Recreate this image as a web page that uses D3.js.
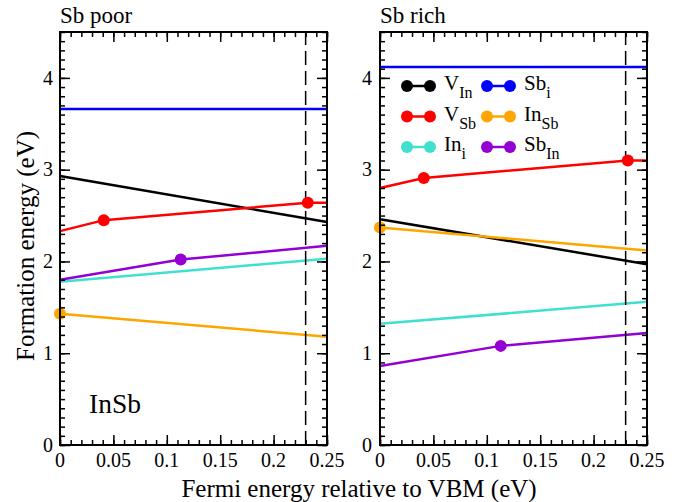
<!DOCTYPE html>
<html>
<head>
<meta charset="utf-8">
<script src="https://cdn.jsdelivr.net/npm/d3@7"></script>
<style>
  body { margin: 0; background: #fff; }
</style>
</head>
<body>
<div id="chart"></div>
<script>
// tick values
const xTicks = [0, 0.05, 0.1, 0.15, 0.2, 0.25]
const xTickLabels = ['0', '0.05', '0.1', '0.15', '0.2', '0.25']
const yTicks = [0, 1, 2, 3, 4]

// defects: name, subscript, colour
const defectNames = ['V', 'V', 'In', 'Sb', 'In', 'Sb']
const defectSubs = ['In', 'Sb', 'i', 'i', 'Sb', 'In']
const defectColors = ['#000000', '#ff0000', '#40e0d0', '#0000ff', '#ffa500', '#9400d3']

// Sb poor, [Fermi energy, formation energy]
const poorVIn = [[0, 2.93], [0.25, 2.43]]
const poorVSb = [[0, 2.33], [0.041, 2.45], [0.232, 2.64], [0.25, 2.64]]
const poorIni = [[0, 1.78], [0.25, 2.03]]
const poorSbi = [[0, 3.66], [0.25, 3.66]]
const poorInSb = [[0, 1.43], [0.25, 1.18]]
const poorSbIn = [[0, 1.80], [0.113, 2.02], [0.25, 2.17]]

// Sb rich
const richVIn = [[0, 2.46], [0.25, 1.97]]
const richVSb = [[0, 2.80], [0.041, 2.91], [0.232, 3.10], [0.25, 3.10]]
const richIni = [[0, 1.32], [0.25, 1.56]]
const richSbi = [[0, 4.12], [0.25, 4.12]]
const richInSb = [[0, 2.37], [0.25, 2.12]]
const richSbIn = [[0, 0.86], [0.113, 1.08], [0.25, 1.22]]

// transition levels (dots) as x positions per defect
const dotXs = [[], [0.041, 0.232], [], [], [0], [0.113]]

const bandGap = 0.23

const width = 690
const height = 502
const panelTop = 32
const panelBottom = 445
const panelW = 267
const serif = "'Liberation Serif', 'Times New Roman', 'DejaVu Serif', serif"

const svg = d3.select('#chart')
  .append('svg')
    .attr('width', width)
    .attr('height', height)
    .attr('font-family', serif)

const yScale = d3.scaleLinear()
  .domain([0, 4.5])
  .range([panelBottom, panelTop])

function drawPanel(left, title, series, tickAnchorX) {
  const xScale = d3.scaleLinear()
    .domain([0, 0.25])
    .range([left, left + panelW])

  const g = svg.append('g')

  // colored lines
  const line = d3.line()
    .x(d => xScale(d[0]))
    .y(d => yScale(d[1]))

  series.forEach((pts, i) => {
    g.append('path')
      .attr('d', line(pts))
      .attr('fill', 'none')
      .attr('stroke', defectColors[i])
      .attr('stroke-width', 2.5)
  })

  // dashed band gap line
  g.append('line')
    .attr('x1', xScale(bandGap)).attr('x2', xScale(bandGap))
    .attr('y1', yScale(0)).attr('y2', yScale(4.5))
    .attr('stroke', '#000')
    .attr('stroke-width', 1.5)
    .attr('stroke-dasharray', '14,6')

  // dots at transition levels
  series.forEach((pts, i) => {
    dotXs[i].forEach(x => {
      const p = pts.find(d => Math.abs(d[0] - x) < 1e-9)
      g.append('circle')
        .attr('cx', xScale(p[0]))
        .attr('cy', yScale(p[1]))
        .attr('r', 6)
        .attr('fill', defectColors[i])
    })
  })

  // axes, ticks pointing inward on all four sides
  const xMinor = d3.range(0, 0.2501, 0.01)
  const yMinor = d3.range(0, 4.501, 0.1)

  const bottom = d3.axisTop(xScale).tickValues(xTicks).tickSize(10).tickFormat('')
  const bottomMinor = d3.axisTop(xScale).tickValues(xMinor).tickSize(5).tickFormat('')
  const top = d3.axisBottom(xScale).tickValues(xTicks).tickSize(10).tickFormat('')
  const topMinor = d3.axisBottom(xScale).tickValues(xMinor).tickSize(5).tickFormat('')
  const leftAx = d3.axisRight(yScale).tickValues(yTicks).tickSize(10).tickFormat('')
  const leftMinor = d3.axisRight(yScale).tickValues(yMinor).tickSize(5).tickFormat('')
  const rightAx = d3.axisLeft(yScale).tickValues(yTicks).tickSize(10).tickFormat('')
  const rightMinor = d3.axisLeft(yScale).tickValues(yMinor).tickSize(5).tickFormat('')

  const axes = [
    [bottom, 0, panelBottom], [bottomMinor, 0, panelBottom],
    [top, 0, panelTop], [topMinor, 0, panelTop],
    [leftAx, left, 0], [leftMinor, left, 0],
    [rightAx, left + panelW, 0], [rightMinor, left + panelW, 0]
  ]
  axes.forEach(a => {
    const ag = g.append('g')
      .attr('transform', `translate(${a[1]}, ${a[2]})`)
      .call(a[0].tickSizeOuter(0))
    ag.select('.domain').remove()
    ag.selectAll('line').attr('stroke', '#000').attr('stroke-width', 1.5)
  })

  // frame
  g.append('rect')
    .attr('x', left).attr('y', panelTop)
    .attr('width', panelW).attr('height', panelBottom - panelTop)
    .attr('fill', 'none')
    .attr('stroke', '#000')
    .attr('stroke-width', 2)

  // tick labels
  g.selectAll('.xlab')
    .data(xTicks).enter()
    .append('text')
      .attr('x', d => xScale(d))
      .attr('y', 467)
      .attr('text-anchor', 'middle')
      .attr('font-size', 20)
      .text((d, i) => xTickLabels[i])

  g.selectAll('.ylab')
    .data(yTicks).enter()
    .append('text')
      .attr('x', tickAnchorX)
      .attr('y', d => yScale(d))
      .attr('dy', '0.34em')
      .attr('text-anchor', 'end')
      .attr('font-size', 20)
      .text(d => d)

  g.append('text')
    .attr('x', left)
    .attr('y', 23)
    .attr('font-size', 23)
    .text(title)

  return xScale
}

drawPanel(60, 'Sb poor', [poorVIn, poorVSb, poorIni, poorSbi, poorInSb, poorSbIn], 53)
drawPanel(380, 'Sb rich', [richVIn, richVSb, richIni, richSbi, richInSb, richSbIn], 372)

// InSb label
svg.append('text')
  .attr('x', 89)
  .attr('y', 413)
  .attr('font-size', 27.5)
  .text('InSb')

// axis titles
svg.append('text')
  .attr('x', 359)
  .attr('y', 497)
  .attr('text-anchor', 'middle')
  .attr('font-size', 25)
  .text('Fermi energy relative to VBM (eV)')

svg.append('text')
  .attr('transform', `translate(33.5, 246)rotate(-90)`)
  .attr('text-anchor', 'middle')
  .attr('font-size', 25)
  .text('Formation energy (eV)')

// legend
const legendCols = [407, 487]
const legendRows = [86, 116.5, 147]
const legend = svg.append('g').attr('id', 'legend')

defectNames.forEach((name, i) => {
  const lx = legendCols[Math.floor(i / 3)]
  const ly = legendRows[i % 3]
  legend.append('line')
    .attr('x1', lx).attr('x2', lx + 23)
    .attr('y1', ly).attr('y2', ly)
    .attr('stroke', defectColors[i])
    .attr('stroke-width', 2.5)
  legend.selectAll(null)
    .data([lx, lx + 23]).enter()
    .append('circle')
      .attr('cx', d => d)
      .attr('cy', ly)
      .attr('r', 6)
      .attr('fill', defectColors[i])
  const t = legend.append('text')
    .attr('x', lx + 37)
    .attr('y', ly + 4)
    .attr('font-size', 21)
  t.append('tspan').text(name)
  t.append('tspan')
    .attr('font-size', 16)
    .attr('dy', 8)
    .text(defectSubs[i])
})
</script>
</body>
</html>
